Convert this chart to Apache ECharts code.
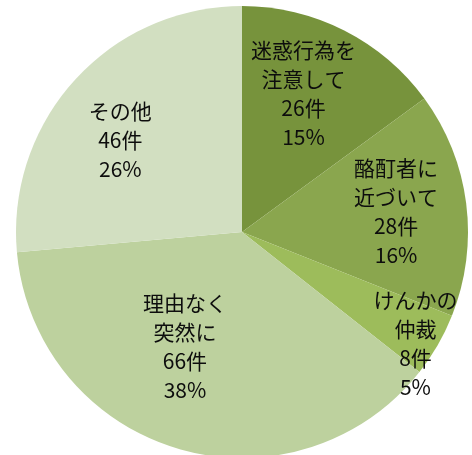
<!DOCTYPE html>
<html>
<head>
<meta charset="utf-8">
<script src="https://cdn.jsdelivr.net/npm/echarts@6/dist/echarts.min.js"></script>
<style>
html,body{margin:0;padding:0;background:#fff;}
#c{width:472px;height:455px;}
</style>
</head>
<body>
<div id="c"></div>
<script>
var categories = ['迷惑行為を\n注意して', '酪酊者に\n近づいて', 'けんかの\n仲裁', '理由なく\n突然に', 'その他'];
var counts = [26, 28, 8, 66, 46];
var colors = ['#77933C', '#8AA64E', '#9DBC5B', '#BDD19E', '#D2DFC1'];
var labelOffsets = [[9, -35], [39, -6], [73, 54], [-24, 3], [-36, -14]];

var chart = echarts.init(document.getElementById('c'), null, {renderer: 'canvas'});
var data = categories.map(function (n, i) {
  return {
    name: n,
    value: counts[i],
    itemStyle: {color: colors[i]},
    label: {offset: labelOffsets[i]}
  };
});
chart.setOption({
  backgroundColor: '#ffffff',
  animation: false,
  series: [{
    type: 'pie',
    center: [242, 232],
    radius: 226,
    startAngle: 90,
    clockwise: true,
    avoidLabelOverlap: false,
    data: data,
    itemStyle: {borderWidth: 0},
    labelLine: {show: false},
    label: {
      show: true,
      position: 'inside',
      color: '#0d0d0d',
      fontFamily: '"Noto Sans CJK JP", "Noto Sans", sans-serif',
      fontSize: 21,
      lineHeight: 29,
      align: 'center',
      formatter: function (p) {
        return p.name + '\n' + p.value + '件\n' + Math.round(p.percent) + '%';
      }
    }
  }]
});
</script>
</body>
</html>
